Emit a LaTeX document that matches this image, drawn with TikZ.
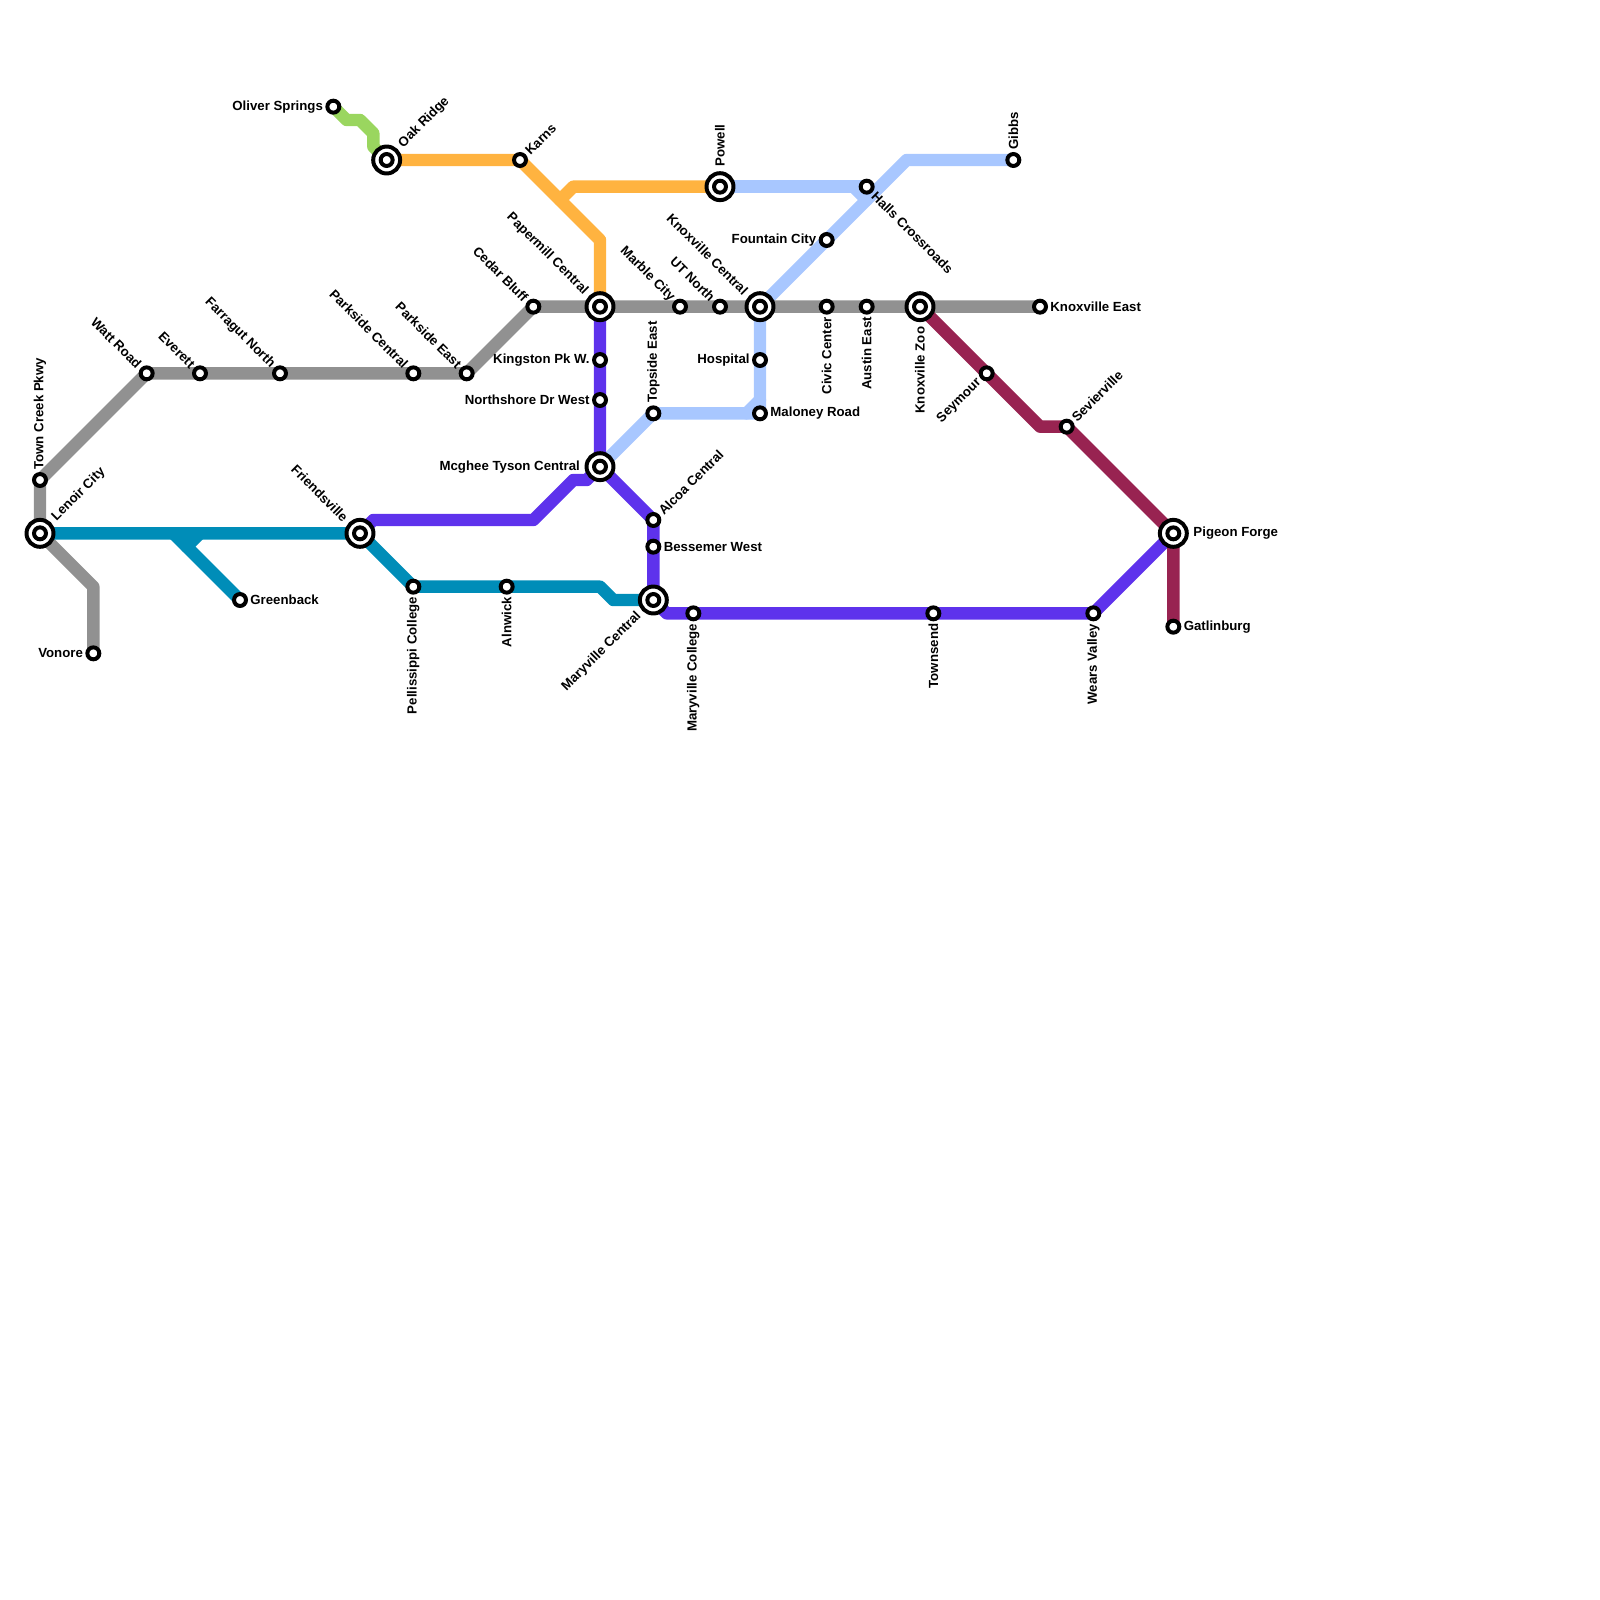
\documentclass[tikz,border=0pt]{standalone}
\usepackage{fontspec}
\setmainfont{Liberation Sans}
\usetikzlibrary{backgrounds}
\definecolor{mapgray}{RGB}{145,145,145}
\definecolor{mapteal}{RGB}{0,141,184}
\definecolor{mappurple}{RGB}{94,50,236}
\definecolor{maporange}{RGB}{255,179,64}
\definecolor{mapblue}{RGB}{168,199,255}
\definecolor{mapgreen}{RGB}{154,214,95}
\definecolor{mapcrimson}{RGB}{152,35,81}
\tikzset{
  rail/.style={line width=10.6pt, line join=round, line cap=round},
  stop/.style={circle, draw=black, fill=white, line width=3.4pt, minimum size=10.2pt, inner sep=0pt, outer sep=0pt},
  hub/.style={circle, draw=black, fill=white, line width=3.4pt, minimum size=23pt, inner sep=0pt, outer sep=0pt},
  lab/.style={font=\fontsize{11.3}{13}\selectfont\bfseries, text=black, inner ysep=0pt},
  toE/.style={anchor=west},
  toW/.style={anchor=east},
  toN/.style={rotate=90, anchor=west},
  toS/.style={rotate=90, anchor=east},
  toNE/.style={rotate=45, anchor=west},
  toNW/.style={rotate=-45, anchor=east},
  toSE/.style={rotate=-45, anchor=west},
  toSW/.style={rotate=45, anchor=east}
}
\begin{document}
\begin{tikzpicture}[x=0.4cm, y=-0.4cm]
\useasboundingbox (0,0) rectangle (120,120);
% interchanges
\node[hub] (lenoir) at (3,40) {};
\node[hub] (friendsville) at (27,40) {};
\node[hub] (oakridge) at (29,12) {};
\node[hub] (papermill) at (45,23) {};
\node[hub] (mcghee) at (45,35) {};
\node[hub] (maryville) at (49,45) {};
\node[hub] (powell) at (54,14) {};
\node[hub] (knoxcentral) at (57,23) {};
\node[hub] (zoo) at (69,23) {};
\node[hub] (pigeon) at (88,40) {};
\foreach \x in {lenoir,friendsville,oakridge,papermill,mcghee,maryville,powell,knoxcentral,zoo,pigeon}
  \node[stop] (\x-in) at (\x) {};
% stations
\node[stop] (towncreek) at (3,36) {};
\node[stop] (watt) at (11,28) {};
\node[stop] (everett) at (15,28) {};
\node[stop] (farragut) at (21,28) {};
\node[stop] (parkcentral) at (31,28) {};
\node[stop] (parkeast) at (35,28) {};
\node[stop] (cedar) at (40,23) {};
\node[stop] (marble) at (51,23) {};
\node[stop] (utnorth) at (54,23) {};
\node[stop] (civic) at (62,23) {};
\node[stop] (austin) at (65,23) {};
\node[stop] (knoxeast) at (78,23) {};
\node[stop] (vonore) at (7,49) {};
\node[stop] (greenback) at (18,45) {};
\node[stop] (pellissippi) at (31,44) {};
\node[stop] (alnwick) at (38,44) {};
\node[stop] (olive) at (25,8) {};
\node[stop] (karns) at (39,12) {};
\node[stop] (halls) at (65,14) {};
\node[stop] (gibbs) at (76,12) {};
\node[stop] (fountain) at (62,18) {};
\node[stop] (hospital) at (57,27) {};
\node[stop] (maloney) at (57,31) {};
\node[stop] (topside) at (49,31) {};
\node[stop] (kingston) at (45,27) {};
\node[stop] (northshore) at (45,30) {};
\node[stop] (alcoa) at (49,39) {};
\node[stop] (bessemer) at (49,41) {};
\node[stop] (marycollege) at (52,46) {};
\node[stop] (townsend) at (70,46) {};
\node[stop] (wears) at (82,46) {};
\node[stop] (gatlinburg) at (88,47) {};
\node[stop] (seymour) at (74,28) {};
\node[stop] (sevier) at (80,32) {};
% labels
\foreach \x/\s/\t in {towncreek/toN/Town Creek Pkwy, watt/toNW/Watt Road, everett/toNW/Everett, farragut/toNW/Farragut North,
  parkcentral/toNW/Parkside Central, parkeast/toNW/Parkside East, cedar/toNW/Cedar Bluff, marble/toNW/Marble City,
  utnorth/toNW/UT North, civic/toS/Civic Center, austin/toS/Austin East, knoxeast/toE/Knoxville East, vonore/toW/Vonore,
  greenback/toE/Greenback, pellissippi/toS/Pellissippi College, alnwick/toS/Alnwick, olive/toW/Oliver Springs,
  karns/toNE/Karns, halls/toSE/Halls Crossroads, gibbs/toN/Gibbs, fountain/toW/Fountain City, hospital/toW/Hospital,
  maloney/toE/Maloney Road, topside/toN/Topside East, kingston/toW/Kingston Pk W., northshore/toW/Northshore Dr West,
  alcoa/toNE/Alcoa Central, bessemer/toE/Bessemer West, marycollege/toS/Maryville College, townsend/toS/Townsend,
  wears/toS/Wears Valley, gatlinburg/toE/Gatlinburg, seymour/toSW/Seymour, sevier/toNE/Sevierville}
  \node[lab, inner xsep=8.7pt, \s] (\x-lab) at (\x) {\t};
\foreach \x/\s/\t in {lenoir/toNE/Lenoir City, friendsville/toNW/Friendsville, oakridge/toNE/Oak Ridge, papermill/toNW/Papermill Central,
  mcghee/toW/Mcghee Tyson Central, maryville/toSW/Maryville Central, powell/toN/Powell, knoxcentral/toNW/Knoxville Central,
  zoo/toS/Knoxville Zoo, pigeon/toE/Pigeon Forge}
  \node[lab, inner xsep=17pt, \s] (\x-lab) at (\x) {\t};
% bends
\coordinate (g1) at (7,44);
\coordinate (t1) at (13,40);
\coordinate (t2) at (14,41);
\coordinate (t3) at (15,40);
\coordinate (t4) at (45,44);
\coordinate (t5) at (46,45);
\coordinate (o1) at (45,18);
\coordinate (o2) at (42,15);
\coordinate (o3) at (43,14);
\coordinate (b1) at (64,14);
\coordinate (b2) at (65,15);
\coordinate (b3) at (68,12);
\coordinate (b4) at (57,30);
\coordinate (b5) at (56,31);
\coordinate (p1) at (28,39);
\coordinate (p2) at (40,39);
\coordinate (p3) at (43,36);
\coordinate (p4) at (44,36);
\coordinate (p5) at (50,46);
\coordinate (c1) at (78,32);
\coordinate (v1) at (26,9);
\coordinate (v2) at (27,9);
\coordinate (v3) at (28,10);
\coordinate (v4) at (28,11);
\begin{scope}[on background layer]
\draw[rail, mapgreen] (olive.center) -- (v1) -- (v2) -- (v3) -- (v4) -- (oakridge.center);
\draw[rail, maporange] (oakridge.center) -- (karns.center) -- (o1) -- (papermill.center);
\draw[rail, maporange] (o2) -- (o3) -- (powell.center);
\draw[rail, mapblue] (powell.center) -- (halls.center);
\draw[rail, mapblue] (b1) -- (b2);
\draw[rail, mapblue] (knoxcentral.center) -- (b3) -- (gibbs.center);
\draw[rail, mapblue] (knoxcentral.center) -- (maloney.center) -- (topside.center) -- (mcghee.center);
\draw[rail, mapblue] (b4) -- (b5);
\draw[rail, mapgray] (lenoir.center) -- (towncreek.center) -- (watt.center) -- (parkeast.center) -- (cedar.center) -- (knoxeast.center);
\draw[rail, mapgray] (lenoir.center) -- (g1) -- (vonore.center);
\draw[rail, mapteal] (lenoir.center) -- (friendsville.center) -- (pellissippi.center) -- (t4) -- (t5) -- (maryville.center);
\draw[rail, mapteal] (t1) -- (greenback.center);
\draw[rail, mapteal] (t2) -- (t3);
\draw[rail, mappurple] (papermill.center) -- (mcghee.center) -- (alcoa.center) -- (maryville.center) -- (p5) -- (wears.center) -- (pigeon.center);
\draw[rail, mappurple] (friendsville.center) -- (p1) -- (p2) -- (p3) -- (p4) -- (mcghee.center);
\draw[rail, mapcrimson] (zoo.center) -- (c1) -- (sevier.center) -- (pigeon.center) -- (gatlinburg.center);
\end{scope}
\end{tikzpicture}
\end{document}
